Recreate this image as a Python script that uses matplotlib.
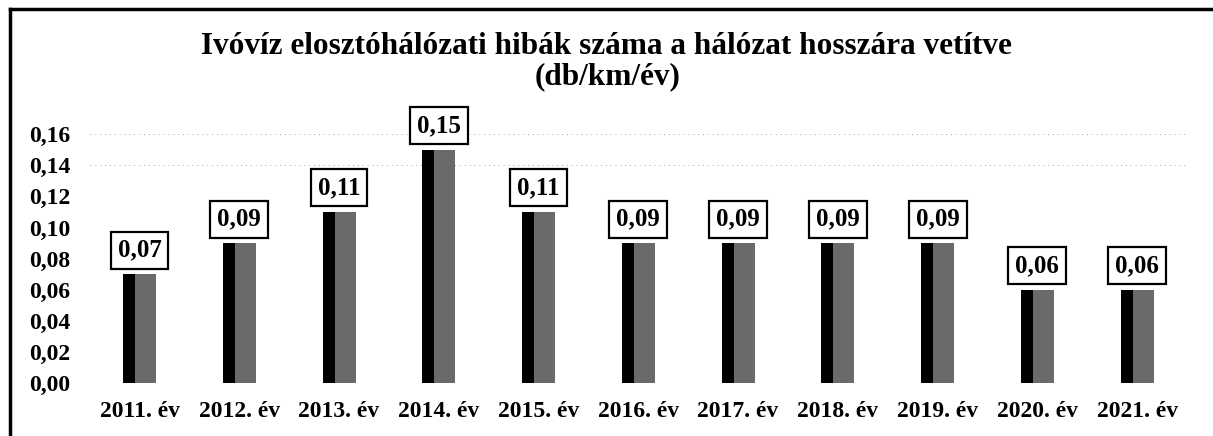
import matplotlib
matplotlib.use("Agg")
import matplotlib.pyplot as plt
from matplotlib.lines import Line2D

categories = ["2011. év", "2012. év", "2013. év", "2014. év", "2015. év", "2016. év",
              "2017. év", "2018. év", "2019. év", "2020. év", "2021. év"]
values = [0.07, 0.09, 0.11, 0.15, 0.11, 0.09, 0.09, 0.09, 0.09, 0.06, 0.06]
value_labels = ["0,07", "0,09", "0,11", "0,15", "0,11", "0,09", "0,09", "0,09", "0,09", "0,06", "0,06"]
yticks = [0.00, 0.02, 0.04, 0.06, 0.08, 0.10, 0.12, 0.14, 0.16]
ytick_labels = ["0,00", "0,02", "0,04", "0,06", "0,08", "0,10", "0,12", "0,14", "0,16"]
title_line1 = "Ivóvíz elosztóhálózati hibák száma a hálózat hosszára vetítve"
title_line2 = "(db/km/év)"

plt.rcParams["font.family"] = ["Liberation Serif", "DejaVu Serif"]
plt.rcParams["font.weight"] = "bold"

fig = plt.figure(figsize=(12.13, 4.36), dpi=100)
ax = fig.add_axes([0.0739, 0.1216, 0.9047, 0.642])

x = list(range(len(categories)))
ax.bar(x, values, width=0.33, color="black", zorder=2)
ax.bar([i + 0.06 for i in x], values, width=0.21, color="#6a6a6a", zorder=3)

for i, (v, lab) in enumerate(zip(values, value_labels)):
    ax.annotate(lab, (i, v), xytext=(0, 9), textcoords="offset points",
                ha="center", va="bottom", fontsize=18, fontweight="bold",
                bbox=dict(boxstyle="square,pad=0.28", fc="white", ec="black", lw=1.6),
                zorder=5)

ax.set_xlim(-0.5, len(categories) - 0.5)
ax.set_ylim(0, 0.18)
ax.set_yticks(yticks)
ax.set_yticklabels(ytick_labels, fontsize=17, fontweight="bold")
ax.set_xticks(x)
ax.set_xticklabels(categories, fontsize=17, fontweight="bold")
ax.tick_params(axis="both", length=0)
ax.tick_params(axis="y", pad=14)
ax.tick_params(axis="x", pad=13)
for s in ax.spines.values():
    s.set_visible(False)
for gy in (0.14, 0.16):
    ax.axhline(gy, color="#aaaaaa", lw=0.7, ls=(0, (1, 4)), zorder=1)

fig.text(606 / 1213, 1 - 46 / 436, title_line1, ha="center", va="center",
         fontsize=22.5, fontweight="bold")
fig.text(608 / 1213, 1 - 77 / 436, title_line2, ha="center", va="center",
         fontsize=22.5, fontweight="bold")

fig.add_artist(Line2D([10 / 1213, 1.0], [1 - 9 / 436, 1 - 9 / 436],
                      transform=fig.transFigure, color="black", lw=2.5))
fig.add_artist(Line2D([10 / 1213, 10 / 1213], [0.0, 1 - 9 / 436],
                      transform=fig.transFigure, color="black", lw=2.5))

fig.savefig("out.png", dpi=100)
